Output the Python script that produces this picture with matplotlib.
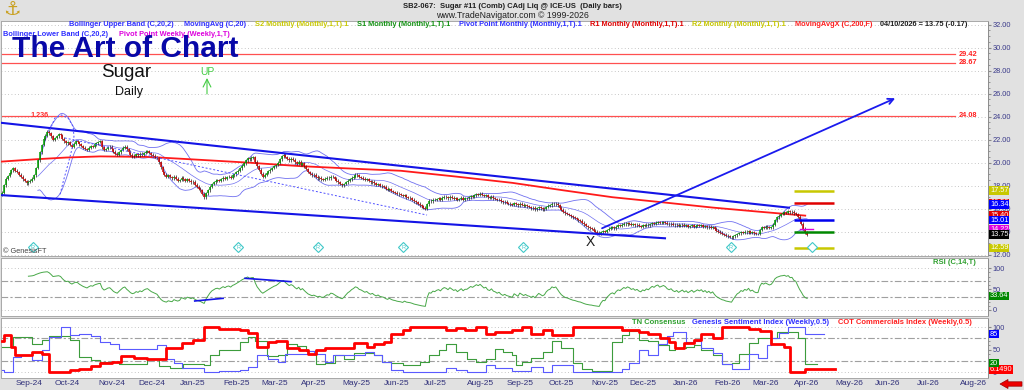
import numpy as np
import pandas as pd
import matplotlib
matplotlib.use("Agg")
import matplotlib.pyplot as plt
from matplotlib.patches import Polygon

plt.rcParams['font.family'] = ['Liberation Sans', 'DejaVu Sans']

W, H = 1024, 390

# daily closes, 22 Aug 2024 .. 10 Apr 2026
closes = [
    17.40, 18.05, 18.60, 18.85, 19.10, 19.35, 19.55, 19.30, 19.20, 18.95,
    18.80, 18.55, 18.40, 18.20, 18.35, 18.45, 18.60, 18.90, 19.55, 20.20,
    20.90, 21.55, 22.10, 22.35, 22.70, 22.55, 22.30, 22.00, 22.15, 22.30,
    22.50, 22.40, 22.10, 21.85, 21.70, 21.80, 21.55, 21.40, 21.65, 21.85,
    21.80, 21.60, 21.45, 21.30, 21.20, 21.10, 21.30, 21.45, 21.40, 21.60,
    21.70, 21.80, 21.85, 21.35, 21.10, 21.20, 21.35, 21.40, 21.20, 20.95,
    20.80, 20.70, 20.90, 21.10, 21.30, 21.40, 21.15, 20.95, 20.70, 20.55,
    20.60, 20.75, 20.65, 20.80, 20.70, 20.85, 20.95, 21.00, 20.85, 20.70,
    20.60, 20.50, 20.40, 20.05, 19.60, 19.20, 18.95, 18.80, 18.90, 18.75,
    18.65, 18.80, 18.60, 18.45, 18.50, 18.70, 18.55, 18.40, 18.55, 18.45,
    18.30, 18.35, 18.10, 17.90, 17.75, 17.60, 17.30, 17.00, 17.35, 17.60,
    17.90, 18.15, 18.30, 18.45, 18.50, 18.40, 18.55, 18.70, 18.60, 18.75,
    18.80, 18.70, 18.90, 19.00, 19.15, 19.30, 19.50, 19.75, 19.95, 20.20,
    20.40, 20.30, 20.45, 20.50, 20.10, 19.70, 19.40, 19.05, 18.80, 18.95,
    19.10, 19.25, 19.40, 19.55, 19.70, 19.80, 20.00, 20.30, 20.55, 20.70,
    20.50, 20.35, 20.20, 20.35, 20.25, 20.05, 19.90, 20.10, 19.80, 19.95,
    19.70, 19.45, 19.20, 19.05, 18.90, 18.95, 18.80, 18.65, 18.70, 18.55,
    18.50, 18.60, 18.70, 18.65, 18.80, 18.75, 18.60, 18.45, 18.30, 18.15,
    18.05, 18.15, 18.30, 18.45, 18.55, 18.70, 18.80, 18.95, 18.90, 18.75,
    18.70, 18.60, 18.50, 18.55, 18.40, 18.30, 18.35, 18.20, 18.10, 18.15,
    18.00, 17.95, 17.90, 17.75, 17.65, 17.70, 17.55, 17.45, 17.40, 17.30,
    17.25, 17.20, 17.10, 17.15, 17.00, 16.95, 16.90, 16.80, 16.65, 16.55,
    16.45, 16.30, 16.20, 16.10, 16.00, 16.40, 16.70, 16.65, 16.80, 16.75,
    16.85, 16.90, 16.80, 16.95, 17.05, 17.00, 16.90, 17.05, 16.95, 16.85,
    16.90, 16.75, 16.85, 16.95, 16.80, 16.90, 16.90, 17.00, 17.10, 17.05,
    17.15, 17.25, 17.20, 17.30, 17.20, 17.10, 17.15, 17.00, 16.95, 17.05,
    16.90, 16.85, 16.75, 16.80, 16.65, 16.55, 16.60, 16.50, 16.45, 16.40,
    16.35, 16.50, 16.40, 16.30, 16.45, 16.35, 16.25, 16.30, 16.20, 16.15,
    16.05, 16.10, 15.95, 16.05, 16.15, 16.05, 15.95, 16.00, 16.15, 16.25,
    16.30, 16.45, 16.40, 16.45, 16.30, 16.10, 15.90, 15.75, 15.60, 15.55,
    15.45, 15.35, 15.25, 15.20, 15.10, 15.00, 14.95, 14.80, 14.65, 14.50,
    14.40, 14.30, 14.25, 14.10, 14.00, 13.90, 13.80, 13.95, 14.05, 14.00,
    14.15, 14.25, 14.35, 14.40, 14.30, 14.45, 14.55, 14.50, 14.60, 14.70,
    14.65, 14.75, 14.70, 14.60, 14.65, 14.55, 14.60, 14.50, 14.45, 14.55,
    14.50, 14.60, 14.55, 14.65, 14.75, 14.70, 14.80, 14.85, 14.75, 14.80,
    14.85, 14.80, 14.70, 14.65, 14.70, 14.60, 14.55, 14.60, 14.50, 14.55,
    14.60, 14.50, 14.55, 14.45, 14.50, 14.55, 14.45, 14.50, 14.55, 14.50,
    14.55, 14.45, 14.50, 14.40, 14.45, 14.35, 14.40, 14.25, 14.10, 14.00,
    13.90, 13.80, 13.75, 13.65, 13.60, 13.55, 13.50, 13.60, 13.70, 13.80,
    13.85, 13.95, 13.90, 14.00, 13.95, 14.05, 13.90, 13.95, 13.85, 13.80,
    13.80, 14.15, 14.40, 14.35, 14.45, 14.40, 14.35, 14.40, 14.60, 15.00,
    15.25, 15.40, 15.55, 15.60, 15.70, 15.65, 15.80, 15.70, 15.75, 15.60,
    15.55, 15.30, 15.00, 14.70, 14.25, 13.92, 13.75,
]

# 200 day moving average, read at a few bars
ma200_idx = [0, 18, 34, 52, 78, 105, 131, 158, 190, 211, 240, 270, 297, 323, 350, 376, 400, 425]
ma200_val = [20.1, 20.3, 20.45, 20.55, 20.5, 20.25, 20.0, 19.7, 19.45, 19.3, 18.8, 18.25,
             17.6, 17.0, 16.55, 16.1, 15.75, 15.4]

levels = [29.42, 28.67, 24.08]
piv_val = [17.57, 16.50, 15.01, 14.00, 12.59]
piv_col = ['#c8c800', '#e00000', '#0000ee', '#008800', '#c8c800']
wk_pivot = 14.22

# drawn lines (bar index, price)
upper_chan = ([-1, 416.4], [23.48, 16.09])
lower_chan = ([-1, 350.8], [17.19, 13.43])
arrow_pts = ([317.5, 472.6], [14.30, 25.6])
dash_pts = ([33.3, 224.9], [22.15, 15.45])
fib_x = [25.4, 28.0, 31.6, 35.1, 37.7, 38.1, 36.9, 35.1, 32.4, 30.7]
fib_y = [22.84, 23.89, 24.15, 23.86, 23.13, 22.26, 21.10, 19.95, 18.35, 17.19]
r_marks = [16.4, 124.9, 167.2, 212.2, 275.7, 385.7, 428.6]
r_text = ['R', 'R', 'R', 'R', 'R', 'R', '']
x_mark = (311.3, 13.13)

rsi_tl_x = [[102, 117], [128.6, 152.9]]
rsi_tl_y = [[21.6, 28.0], [76.0, 68.0]]

# weekly sentiment series: bar where a step starts, value
cot_idx = [0, 1, 5, 7, 16, 21, 25, 36, 41, 47, 52, 58, 63, 70, 77, 87, 95, 101, 107, 115,
           126, 130, 135, 141, 145, 151, 157, 162, 166, 171, 186, 193, 197, 202, 206, 212, 216, 235, 240, 245,
           251, 256, 261, 270, 275, 280, 286, 291, 302, 328, 337, 342, 348, 353, 356, 361, 366, 370, 376, 381,
           395, 401, 407, 414, 417, 425, 441]
cot_val = [70, 82, 57, 37, 45, 40, 0, 5, 7, 14, 20, 23, 36, 31, 28, 53, 64, 72, 100, 97,
           93, 88, 57, 67, 70, 53, 49, 41, 50, 54, 64, 57, 62, 68, 85, 93, 100, 95, 98, 95,
           100, 84, 90, 93, 100, 85, 95, 82, 100, 93, 90, 85, 76, 67, 53, 64, 72, 85, 76, 100,
           97, 91, 62, 57, 0, 6, 6]
tn_idx = [0, 6, 16, 21, 25, 36, 41, 47, 52, 62, 77, 83, 89, 96, 107, 110, 115, 126, 130, 134,
          140, 146, 151, 156, 161, 166, 171, 176, 181, 186, 197, 201, 206, 212, 221, 226, 231, 235, 240, 246,
          251, 256, 261, 265, 270, 272, 275, 280, 286, 291, 296, 302, 307, 312, 323, 328, 332, 337, 342, 347,
          353, 356, 362, 366, 370, 376, 381, 386, 390, 395, 400, 410, 421, 425, 431]
tn_val = [57, 78, 62, 72, 80, 72, 33, 26, 23, 18, 30, 14, 10, 18, 16, 37, 49, 68, 78, 70,
          36, 39, 62, 59, 47, 18, 21, 37, 30, 43, 37, 23, 20, 16, 23, 37, 49, 62, 45, 30,
          23, 30, 51, 45, 37, 16, 23, 31, 45, 70, 53, 21, 7, 3, 67, 82, 91, 72, 70, 60,
          49, 53, 57, 60, 49, 39, 18, 20, 41, 64, 76, 90, 76, 18, 18]
gs_idx = [0, 1, 6, 10, 16, 21, 25, 31, 36, 41, 47, 52, 57, 62, 82, 87, 91, 95, 107, 115,
          126, 130, 135, 141, 146, 150, 162, 165, 171, 175, 181, 192, 197, 201, 206, 212, 235, 240, 246, 256,
          261, 270, 280, 286, 291, 302, 328, 332, 337, 342, 347, 352, 355, 362, 366, 370, 376, 381, 386, 395,
          400, 405, 407, 411, 416, 425, 435]
gs_val = [5, 0, 33, 39, 26, 49, 78, 100, 82, 85, 80, 67, 62, 51, 60, 30, 21, 10, 0, 2,
          5, 12, 39, 28, 23, 41, 47, 41, 23, 37, 39, 45, 37, 23, 5, 0, 9, 5, 0, 16,
          10, 2, 12, 0, 16, 0, 7, 20, 49, 39, 62, 80, 90, 67, 70, 53, 43, 18, 7, 41,
          31, 60, 76, 88, 100, 85, 85]

price_tags = [(16.50, '16.50', '#e00000'), (15.40, '15.40', '#e00000'), (14.22, '14.22', '#dd00dd'),
              (17.57, '17.57', '#c8c800'), (16.34, '16.34', '#0000ff'), (15.01, '15.01', '#0000ff'),
              (13.75, '13.75', '#000000'), (12.59, '12.59', '#c8c800')]


def fx(x):
    return x / W


def fy(y):
    return 1 - y / H


def panel(top, bottom, left=1, right=988):
    return [left / W, 1 - bottom / H, (right - left) / W, (bottom - top) / H]


def tag(axis, y, txt, bg):
    axis.text(1.002, y, txt, transform=axis.get_yaxis_transform(), fontsize=5.3, color='white',
              ha='left', va='center', clip_on=False, zorder=20,
              bbox=dict(boxstyle='square,pad=0.12', fc=bg, ec='none'))


dates = pd.bdate_range('2024-08-22', periods=len(closes))
axis_dates = pd.bdate_range('2024-08-22', '2026-09-30')
x = np.arange(len(closes))
c = np.array(closes)
o = np.r_[c[0] - 0.2, c[:-1]]
hi = np.maximum(o, c) + 0.12
lo = np.minimum(o, c) - 0.12

s = pd.Series(closes)
mid = s.rolling(20).mean()
sd = s.rolling(20).std(ddof=0)
d = s.diff()
up = d.clip(lower=0).ewm(alpha=1 / 14, adjust=False, min_periods=14).mean()
dn = (-d.clip(upper=0)).ewm(alpha=1 / 14, adjust=False, min_periods=14).mean()
rsi = 100 - 100 / (1 + up / dn)

fig = plt.figure(figsize=(W / 100, H / 100), dpi=100, facecolor='#e1e1e1')
ax = fig.add_axes(panel(21, 256))
ax_r = fig.add_axes(panel(258, 315.5), sharex=ax)
ax_s = fig.add_axes(panel(318, 378), sharex=ax)

for a in (ax, ax_r, ax_s):
    a.set_facecolor('white')
    a.yaxis.tick_right()
    a.tick_params(axis='y', which='major', length=2.5, color='#888888', labelsize=5.3,
                  labelcolor='#3a3a8a', pad=1)
    a.tick_params(axis='y', which='minor', length=1.5, color='#888888')
    a.tick_params(axis='x', bottom=False, labelbottom=False)
    for sp in a.spines.values():
        sp.set_color('#a8a8a8')
        sp.set_linewidth(0.7)
    a.spines['right'].set_color('#8c8c8c')

ax.set_xlim(-0.5, 521.7)

# ---- price panel
ax.set_ylim(11.89, 32.32)
ax.set_yticks(np.arange(12, 33, 2))
ax.set_yticklabels(['%.2f' % v for v in np.arange(12, 33, 2)])
ax.set_yticks(np.arange(12, 32.3, 0.5), minor=True)
for v in np.arange(12, 33, 2):
    ax.axhline(v, color='#b4b4b4', lw=0.6, ls=(0, (1, 3)), zorder=0)

for lv in levels:
    ax.plot([-1, 504], [lv, lv], color='#ff5050', lw=0.9, zorder=2)
    ax.text(506, lv, '%.2f' % lv, color='#ff2020', fontsize=5.3, weight='bold', va='center', zorder=3)
ax.text(15, levels[2], '1.236', color='#ff3030', fontsize=5.2, weight='bold', va='center', zorder=3)

ax.plot(x, mid + 2 * sd, color='#7070f0', lw=0.6, zorder=3)
ax.plot(x, mid - 2 * sd, color='#7070f0', lw=0.6, zorder=3)
ax.plot(x, mid, color='#7070f0', lw=0.5, zorder=3)
ax.plot(ma200_idx, ma200_val, color='#ff1a1a', lw=1.3, zorder=4)

cols = np.where(c >= o, '#00a000', '#d00000')
ax.vlines(x, lo, hi, color='#1e1e1e', lw=0.5, zorder=5)
ax.vlines(x, o, c, colors=cols, lw=1.1, zorder=6)

ax.plot(*upper_chan, color='#1414e6', lw=1.5, zorder=7)
ax.plot(*lower_chan, color='#1414e6', lw=1.5, zorder=7)
ax.plot(*dash_pts, color='#5050ff', lw=0.7, ls=(0, (2, 2)), zorder=7)
ax.plot(fib_x, fib_y, color='#5050ff', lw=0.7, ls=(0, (2, 2)), zorder=7)
ax.annotate('', xy=(arrow_pts[0][1], arrow_pts[1][1]), xytext=(arrow_pts[0][0], arrow_pts[1][0]),
            arrowprops=dict(arrowstyle='->', color='#1a1aee', lw=1.3, mutation_scale=10,
                            shrinkA=0, shrinkB=0), zorder=8)

apr0 = int(np.argmax((axis_dates.year == 2026) & (axis_dates.month == 4)))
apr1 = int(np.where((axis_dates.year == 2026) & (axis_dates.month == 4))[0][-1])
for v, col in zip(piv_val, piv_col):
    ax.plot([apr0, apr1], [v, v], color=col, lw=1.8, zorder=8, solid_capstyle='butt')
ax.plot([len(closes) - 5, len(closes) + 2], [wk_pivot, wk_pivot], color='#dd00dd', lw=1.0, zorder=8)

for rx, rt in zip(r_marks, r_text):
    ax.plot(rx, 12.67, marker='D', ms=5.5, mfc='white', mec='#40c8c8', mew=0.8, zorder=9)
    ax.text(rx, 12.67, rt, fontsize=4, color='#40c8c8', ha='center', va='center', zorder=10)
ax.text(x_mark[0], x_mark[1], 'X', fontsize=10, color='#202020', ha='center', va='center', zorder=10)

for v, t, bg in price_tags:
    tag(ax, v, t, bg)

# ---- RSI panel
ax_r.set_ylim(-13.2, 124.7)
ax_r.set_yticks([0, 50, 100])
ax_r.set_yticks(np.arange(0, 101, 10), minor=True)
for v in (0, 100):
    ax_r.axhline(v, color='#b4b4b4', lw=0.6, ls=(0, (1, 3)), zorder=0)
for v in (30, 70):
    ax_r.axhline(v, color='#a0a0a0', lw=0.8, ls=(0, (6, 2, 2, 2)), zorder=0)
ax_r.plot(x, rsi, color='#48a848', lw=0.7, zorder=3)
for tx, ty in zip(rsi_tl_x, rsi_tl_y):
    ax_r.plot(tx, ty, color='#1414e6', lw=1.2, zorder=4)
tag(ax_r, 33.64, '33.64', '#008800')

# ---- sentiment panel
ax_s.set_ylim(-13.4, 120.8)
ax_s.set_yticks([0, 50, 100])
ax_s.set_yticks(np.arange(0, 101, 10), minor=True)
for v in (0, 100):
    ax_s.axhline(v, color='#b4b4b4', lw=0.6, ls=(0, (1, 3)), zorder=0)
for v in (25, 75):
    ax_s.axhline(v, color='#a0a0a0', lw=0.8, ls=(0, (6, 2, 2, 2)), zorder=0)
ax_s.step(tn_idx, tn_val, where='post', color='#3c9c3c', lw=0.8, zorder=3)
ax_s.step(gs_idx, gs_val, where='post', color='#5a5aff', lw=0.8, zorder=3)
ax_s.step(cot_idx, cot_val, where='post', color='#ff0000', lw=2.0, zorder=4)
tag(ax_s, 85, '85', '#0000ff')
tag(ax_s, 6.1, '6.1490', '#ff0000')
tag(ax_s, 20, '20', '#008800')

month_pos = [i for i in range(1, len(axis_dates))
             if axis_dates[i].month != axis_dates[i - 1].month and i < 521]
month_lbl = [axis_dates[i].strftime('%b-%y') for i in month_pos]
ax_s.set_xticks(month_pos)
ax_s.set_xticklabels(month_lbl)
ax_s.tick_params(axis='x', bottom=True, labelbottom=True, length=0, pad=1.5,
                 labelsize=6, labelcolor='#30307a')
for lbl in ax_s.get_xticklabels():
    lbl.set_ha('left')

# ---- header and legends
fig.text(fx(512), fy(6), 'SB2-067:  Sugar #11 (Comb) CAdj Liq @ ICE-US  (Daily bars)', ha='center',
         va='center', fontsize=5.5, weight='bold', color='#202020')
fig.text(fx(512), fy(15.5), 'www.TradeNavigator.com \u00a9 1999-2026', ha='center', va='center',
         fontsize=6.3, color='#202020')
fig.text(fx(12), fy(10), '\u2693', ha='center', va='center', fontsize=14, color='#c9a020')

leg1 = [(69, 'Bollinger Upper Band (C,20,2)', '#3030ff'), (184, 'MovingAvg (C,20)', '#3030ff'),
        (255, 'S2 Monthly (Monthly,1,T).1', '#c8c800'), (357, 'S1 Monthly (Monthly,1,T).1', '#109010'),
        (459, 'Pivot Point Monthly (Monthly,1,T).1', '#3030ff'),
        (590, 'R1 Monthly (Monthly,1,T).1', '#e00000'), (692, 'R2 Monthly (Monthly,1,T).1', '#c8c800'),
        (795, 'MovingAvgX (C,200,F)', '#ff2020'), (880, '04/10/2026 = 13.75 (-0.17)', '#202020')]
for px, t, col in leg1:
    fig.text(fx(px), fy(25), t, ha='left', va='center', fontsize=5.3, weight='bold', color=col)
fig.text(fx(3), fy(34), 'Bollinger Lower Band (C,20,2)', ha='left', va='center', fontsize=5.3,
         weight='bold', color='#3030ff')
fig.text(fx(119), fy(34), 'Pivot Point Weekly (Weekly,1,T)', ha='left', va='center', fontsize=5.3,
         weight='bold', color='#dd00dd')

fig.text(fx(12), fy(57), 'The Art of Chart', ha='left', va='baseline', fontsize=21.5, weight='bold',
         color='#0808a8')
fig.text(fx(126), fy(77), 'Sugar', ha='center', va='baseline', fontsize=13.5, color='#111111')
fig.text(fx(129), fy(95), 'Daily', ha='center', va='baseline', fontsize=9, color='#111111')
fig.text(fx(207), fy(72), 'UP', ha='center', va='center', fontsize=7.5, color='#44cc44')
ax.annotate('', xy=(fx(207), fy(78)), xytext=(fx(207), fy(94)), xycoords='figure fraction',
            textcoords='figure fraction',
            arrowprops=dict(arrowstyle='->', color='#44cc44', lw=0.8, mutation_scale=14,
                            shrinkA=0, shrinkB=0))
fig.text(fx(3), fy(251), '\u00a9 GenesisFT', ha='left', va='center', fontsize=5.3, color='#444444')

fig.text(fx(933), fy(262), 'RSI (C,14,T)', ha='left', va='center', fontsize=5.5, weight='bold',
         color='#30a030')
leg3 = [(632, 'TN Consensus', '#30a030'), (692, 'Genesis Sentiment Index (Weekly,0.5)', '#3030ff'),
        (838, 'COT Commercials Index (Weekly,0.5)', '#ff2020')]
for px, t, col in leg3:
    fig.text(fx(px), fy(322), t, ha='left', va='center', fontsize=5.5, weight='bold', color=col)

arrow_px = [(1000, 384), (1008, 379.5), (1008, 381.8), (1022, 381.8), (1022, 386.2), (1008, 386.2),
            (1008, 388.5)]
fig.patches.append(Polygon([(fx(a), fy(b)) for a, b in arrow_px], closed=True,
                           transform=fig.transFigure, fc='#ee0000', ec='#990000', lw=0.5))

fig.savefig('out.png', dpi=100, facecolor=fig.get_facecolor())
